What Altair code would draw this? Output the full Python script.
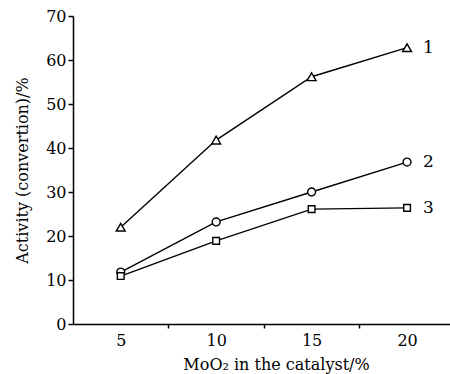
import altair as alt
import pandas as pd

x_vals = [5, 10, 15, 20]
series_names = ["1", "2", "3"]
s1 = [22.0, 41.8, 56.2, 62.8]
s2 = [11.8, 23.2, 30.0, 36.8]
s3 = [10.9, 18.9, 26.1, 26.4]
x_ticks = [5, 7.5, 10, 12.5, 15, 17.5, 20]
y_ticks = [0, 10, 20, 30, 40, 50, 60, 70]

rows = []
for name, vals in zip(series_names, [s1, s2, s3]):
    for xv, yv in zip(x_vals, vals):
        rows.append({"x": xv, "y": yv, "s": name})
df = pd.DataFrame(rows)
last = df[df["x"] == x_vals[-1]]

FONT = "DejaVu Serif"

xenc = alt.X(
    "x:Q",
    scale=alt.Scale(domain=[2.5, 22.25], nice=False, zero=False),
    axis=alt.Axis(
        values=x_ticks,
        labelExpr="datum.value % 5 === 0 ? datum.label : ''",
        tickOpacity={"condition": {"test": "datum.value % 5 === 0", "value": 0}, "value": 1},
        tickSize=4,
        labelPadding=4,
        title="MoO₂ in the catalyst/%",
        titleX=203,
        titleY=40,
        titleAlign="center",
        titleBaseline="middle",
        titleAnchor="start",
    ),
)
yenc = alt.Y(
    "y:Q",
    scale=alt.Scale(domain=[0, 70], nice=False),
    axis=alt.Axis(
        values=y_ticks,
        tickSize=5,
        labelPadding=2,
        title="Activity (convertion)/%",
        titleX=-51,
        titleY=154,
        titleAngle=270,
        titleAlign="center",
        titleBaseline="middle",
        titleAnchor="start",
    ),
)

base = alt.Chart(df)
lines = base.mark_line(color="black", strokeWidth=1.4).encode(x=xenc, y=yenc, detail="s:N")
points = base.mark_point(filled=True, fill="white", stroke="black", strokeWidth=1.4, opacity=1).encode(
    x=xenc,
    y=yenc,
    shape=alt.Shape("s:N", scale=alt.Scale(domain=series_names, range=["triangle-up", "circle", "square"]), legend=None),
    size=alt.Size("s:N", scale=alt.Scale(domain=series_names, range=[80, 45, 55]), legend=None),
)
labels = alt.Chart(last).mark_text(align="left", baseline="middle", dx=16, font=FONT, fontSize=17, color="black").encode(
    x=xenc, y=yenc, text="s:N"
)

chart = (
    alt.layer(lines, points, labels)
    .properties(
        width=377,
        height=308,
        autosize="none",
        padding={"left": 73, "top": 16, "right": 0, "bottom": 50},
        background="white",
    )
    .configure_view(stroke=None)
    .configure_axis(
        grid=False,
        domainColor="black",
        domainWidth=1.5,
        tickColor="black",
        tickWidth=1.5,
        labelFont=FONT,
        labelFontSize=16,
        labelColor="black",
        titleFont=FONT,
        titleFontSize=16,
        titleFontWeight="normal",
        titleColor="black",
    )
)

chart.save("out.html", embed_options={"renderer": "svg", "actions": False})
